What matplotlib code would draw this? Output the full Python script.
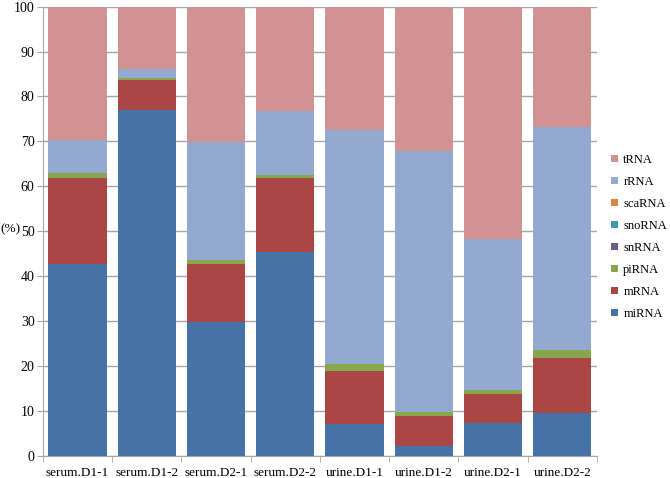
import matplotlib
matplotlib.use("Agg")
import matplotlib.pyplot as plt
import numpy as np

plt.rcParams['font.family'] = ['Liberation Serif', 'DejaVu Serif']

samples = ['serum.D1-1', 'serum.D1-2', 'serum.D2-1', 'serum.D2-2',
           'urine.D1-1', 'urine.D1-2', 'urine.D2-1', 'urine.D2-2']

# percent of reads per RNA class (bottom to top)
miRNA  = [42.7, 77.0, 29.8, 45.4, 7.1, 2.2, 7.3, 9.4]
mRNA   = [19.1, 6.7, 12.9, 16.5, 11.8, 6.5, 6.5, 12.4]
piRNA  = [1.2, 0.4, 0.9, 0.6, 1.6, 0.9, 0.9, 1.7]
snRNA  = [0.0, 0.0, 0.0, 0.0, 0.0, 0.0, 0.0, 0.0]
snoRNA = [0.0, 0.0, 0.0, 0.0, 0.0, 0.0, 0.0, 0.0]
scaRNA = [0.0, 0.0, 0.0, 0.0, 0.0, 0.0, 0.0, 0.0]
rRNA   = [7.3, 2.0, 26.3, 14.2, 52.1, 58.3, 33.6, 49.8]
tRNA   = [29.7, 13.9, 30.1, 23.3, 27.3, 32.1, 51.7, 26.7]

series = [('miRNA', miRNA, '#4572A7'),
          ('mRNA', mRNA, '#AA4643'),
          ('piRNA', piRNA, '#89A54E'),
          ('snRNA', snRNA, '#71588F'),
          ('snoRNA', snoRNA, '#4198AF'),
          ('scaRNA', scaRNA, '#DB843D'),
          ('rRNA', rRNA, '#93A9CF'),
          ('tRNA', tRNA, '#D19392')]

fig = plt.figure(figsize=(6.7, 4.78), dpi=100)
ax = fig.add_axes([0.064, 0.047, 0.827, 0.939])

x = np.arange(len(samples))
bottom = np.zeros(len(samples))
handles = []
for name, vals, col in series:
    b = ax.bar(x, vals, width=0.84, bottom=bottom, color=col, label=name,
               linewidth=0, zorder=2)
    bottom += np.array(vals)
    handles.append(b)

ax.set_xlim(-0.5, len(samples) - 0.5)
ax.set_ylim(0, 100)
ax.set_yticks(np.arange(0, 101, 10))
ax.yaxis.grid(True, color='#a6a6a6', linewidth=1.0, zorder=0)
ax.set_axisbelow(True)

ax.set_xticks(x)
ax.set_xticklabels(samples, fontsize=9.5)
ax.set_xticks(np.arange(-0.5, len(samples), 1), minor=True)
ax.tick_params(axis='x', which='major', length=0, pad=8)
ax.tick_params(axis='x', which='minor', length=4, color='#a6a6a6')
ax.tick_params(axis='y', length=4, color='#a6a6a6', labelsize=10, pad=2)

for s in ['top', 'right']:
    ax.spines[s].set_visible(False)
for s in ['left', 'bottom']:
    ax.spines[s].set_color('#a6a6a6')

ax.set_ylabel('(%)', rotation=0, fontsize=9.5, labelpad=2)
ax.yaxis.set_label_coords(-0.058, 0.49)

leg = ax.legend(handles[::-1], [s[0] for s in series][::-1],
                loc='center left', bbox_to_anchor=(1.026, 0.487),
                borderaxespad=0, borderpad=0,
                frameon=False, fontsize=9, handlelength=0.5, handleheight=0.5,
                handletextpad=0.45, labelspacing=0.8)

fig.savefig('out.png', dpi=100)
